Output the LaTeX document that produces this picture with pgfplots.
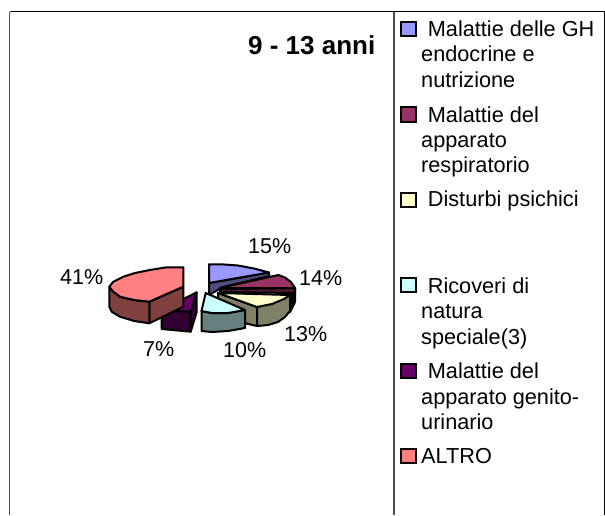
\documentclass[border=0pt]{standalone}
\usepackage{pgfplots}
\pgfplotsset{compat=1.18}
\usepackage{fontspec}
\setmainfont{Liberation Sans}
\definecolor{cB}{HTML}{9999FF}\definecolor{dB}{HTML}{4D4D80}
\definecolor{cM}{HTML}{993366}\definecolor{dM}{HTML}{4D1A33}
\definecolor{cY}{HTML}{FFFFCC}\definecolor{dY}{HTML}{808066}
\definecolor{cC}{HTML}{CCFFFF}\definecolor{dC}{HTML}{668080}
\definecolor{cP}{HTML}{660066}\definecolor{dP}{HTML}{330033}
\definecolor{cR}{HTML}{FF8080}\definecolor{dR}{HTML}{804040}
\pgfplotsset{
  w/.style={draw=black,fill=#1,line width=2pt,line join=round,mark=none,forget plot},
  sw/.style={draw=black,fill=#1,line width=2pt,line join=miter,mark=none,forget plot}
}
\tikzset{
  lab/.style={anchor=base west,inner sep=0pt,font=\fontsize{21.7}{24}\selectfont},
  pct/.style={anchor=base west,inner sep=0pt,font=\fontsize{21.5}{24}\selectfont}
}
\begin{document}
\begin{tikzpicture}
\begin{axis}[x=1pt,y=1pt,xmin=0,xmax=605,ymin=0,ymax=515,y dir=reverse,hide axis,clip=false,
  anchor=north west,at={(0,0)}]
% canvas
\addplot[draw=none,fill=white,forget plot] coordinates {(0,0) (605,0) (605,515) (0,515)} --cycle;
% frame
\addplot[draw=black!70,line width=1.6pt,forget plot] coordinates {(9.5,515) (9.5,11.5)};
\addplot[draw=black,line width=1.2pt,forget plot] coordinates {(9.5,11.5) (604.4,11.5) (604.4,515)};
\addplot[draw=black!70,line width=1.6pt,forget plot] coordinates {(394,11.5) (394,515)};
% blue wedge
\addplot[w=dB] coordinates {(209,283) (269,272.5) (269,276) (223,287) (209,295)} --cycle;
\addplot[w=cB] coordinates {(209,264.3) (225,264.5) (238,265.5) (254,268.5) (269,272.5) (209,283)} --cycle;
% burgundy wedge
\addplot[w=black] coordinates {(278,278) (295,288) (295,302) (290,312) (280,312)} --cycle;
\addplot[w=dM] coordinates {(220,289) (295,288) (295,293) (220,292)} --cycle;
\addplot[w=cM] coordinates {(220,288) (278.3,275) (285,277.5) (291,282) (295,288)} --cycle;
% yellow wedge
\addplot[w=dY] coordinates {(218,293) (257,307) (257,326) (240,322) (218,310)} --cycle;
\addplot[w=dY] coordinates {(257,307) (290,295) (290,311) (285,317) (278,322) (268,325) (257,326)} --cycle;
\addplot[w=cY] coordinates {(218,293) (290,295) (284,299) (272,304) (257,307)} --cycle;
% cyan wedge
\addplot[w=dC] coordinates {(201.5,311) (212,313) (228,313) (245,310) (245,328) (228,331) (212,332) (201.5,331)} --cycle;
\addplot[w=cC] coordinates {(205.7,293) (245,310) (228,313) (212,313) (201.5,311)} --cycle;
% purple wedge
\addplot[w=dP] coordinates {(190.7,311.7) (196.7,292.3) (196.7,312) (190.7,331.7)} --cycle;
\addplot[w=dP] coordinates {(161.7,310) (190.7,311.7) (190.7,331.7) (161.7,329)} --cycle;
\addplot[w=cP] coordinates {(196.7,292.3) (161.7,310) (190.7,311.7)} --cycle;
% red wedge
\addplot[w=dR] coordinates {(149.3,301.7) (183.3,286.7) (183.3,306.7) (149.3,323.3)} --cycle;
\addplot[w=dR] coordinates {(109.3,286.7) (120,296.7) (134,300) (149.3,301.7) (149.3,323.3) (134,321) (120,316.7) (112,312) (109.3,306.7)} --cycle;
\addplot[w=cR] coordinates {(183.3,267.3) (165,267.5) (150,270) (135,273) (123.3,276.7) (113,282) (109.3,286.7) (113,291.5) (120,296.7) (134,300) (149.3,301.7) (183.3,286.7)} --cycle;
% legend swatches
\addplot[sw=cB] coordinates {(401,21.7) (416,21.7) (416,36) (401,36)} --cycle;
\addplot[sw=cM] coordinates {(401,107) (416,107) (416,121.7) (401,121.7)} --cycle;
\addplot[sw=cY] coordinates {(401,193) (416,193) (416,207.3) (401,207.3)} --cycle;
\addplot[sw=cC] coordinates {(401,278.3) (416,278.3) (416,292.3) (401,292.3)} --cycle;
\addplot[sw=cP] coordinates {(401,364) (416,364) (416,378.3) (401,378.3)} --cycle;
\addplot[sw=cR] coordinates {(401,449) (416,449) (416,463.3) (401,463.3)} --cycle;
% texts
\node[anchor=base west,inner sep=0pt,font=\fontsize{26}{28}\selectfont\bfseries] at (axis cs:248,54) {9 - 13 anni};
\node[pct] at (axis cs:248,253.3) {15\%};
\node[pct] at (axis cs:299,285) {14\%};
\node[pct] at (axis cs:284,341.7) {13\%};
\node[pct] at (axis cs:223,357.7) {10\%};
\node[pct] at (axis cs:143,356.7) {7\%};
\node[pct] at (axis cs:60,284) {41\%};
\node[lab] at (axis cs:427.7,36) {Malattie delle GH};
\node[lab] at (axis cs:421,61.7) {endocrine e};
\node[lab] at (axis cs:421,87.3) {nutrizione};
\node[lab] at (axis cs:427.7,122) {Malattie del};
\node[lab] at (axis cs:421,147.7) {apparato};
\node[lab] at (axis cs:421,172.7) {respiratorio};
\node[lab] at (axis cs:427.7,206.7) {Disturbi psichici};
\node[lab] at (axis cs:427.7,293.3) {Ricoveri di};
\node[lab] at (axis cs:421,318.3) {natura};
\node[lab] at (axis cs:421,344) {speciale(3)};
\node[lab] at (axis cs:427.7,378.3) {Malattie del};
\node[lab] at (axis cs:421,404) {apparato genito-};
\node[lab] at (axis cs:421,429.3) {urinario};
\node[lab] at (axis cs:421,463.3) {ALTRO};
\end{axis}
\end{tikzpicture}
\end{document}
